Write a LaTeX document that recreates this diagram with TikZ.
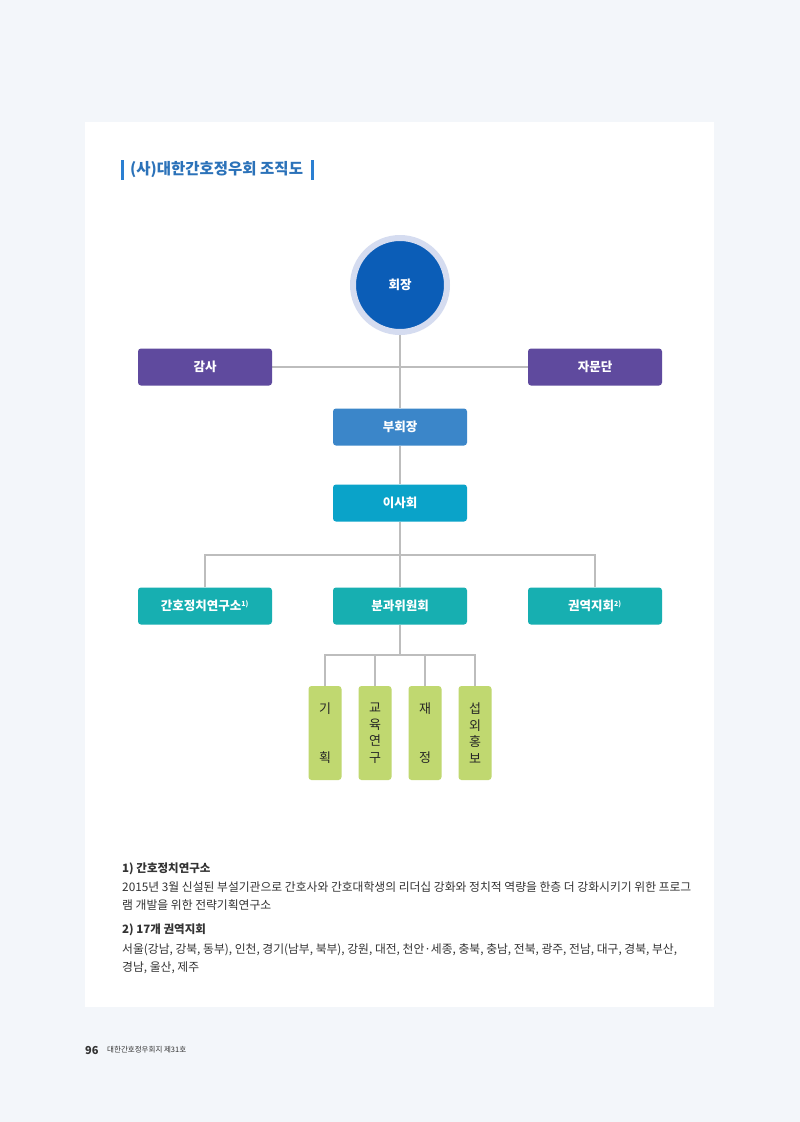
\documentclass[tikz,border=0pt]{standalone}
\usepackage{fontspec}
\usepackage{xcolor}
\usepackage{tikz}
\usetikzlibrary{shapes,arrows,positioning,calc}
\newfontfamily\kr{Noto Sans CJK KR}
\setmainfont{Noto Sans CJK KR}
\definecolor{pagebg}{HTML}{F3F6FA}
\definecolor{titleblue}{HTML}{2B72B9}
\definecolor{barblue}{HTML}{2A7FD2}
\definecolor{ringc}{HTML}{D5DCF0}
\definecolor{chiefc}{HTML}{0B5DB7}
\definecolor{purplec}{HTML}{5F4A9E}
\definecolor{vicec}{HTML}{3B86C9}
\definecolor{boardc}{HTML}{0AA3C9}
\definecolor{tealc}{HTML}{17AFB1}
\definecolor{greenc}{HTML}{C0D870}
\definecolor{linec}{HTML}{BDBDBD}
\definecolor{textc}{HTML}{333333}
\tikzstyle{chief} = [circle, minimum size=94pt, fill=chiefc, draw=ringc, line width=6pt, text=white, font=\kr\bfseries\fontsize{12.5}{15}\selectfont]
\tikzstyle{post} = [rectangle, rounded corners=3pt, minimum width=134pt, minimum height=37pt, text centered, text=white, font=\kr\bfseries\fontsize{12.5}{15}\selectfont]
\tikzstyle{team} = [rectangle, rounded corners=3pt, minimum width=33pt, minimum height=94pt, fill=greenc, text=black!85, font=\kr\fontsize{13}{16.5}\selectfont, align=center]
\tikzstyle{line} = [linec, line width=1.2pt]
\tikzstyle{note} = [anchor=west, inner sep=0pt, text=textc, font=\kr\fontsize{11.8}{14}\selectfont]
\pgfdeclarelayer{background}
\pgfsetlayers{background,main}

\begin{document}
\begin{tikzpicture}[x=1pt,y=-1pt]
\useasboundingbox (0,0) rectangle (800,1122);

% title
\fill[barblue] (121,160) rectangle (124,180);
\fill[barblue] (311,160) rectangle (314,180);
\node (title) [anchor=west, inner sep=0pt, text=titleblue, font=\kr\bfseries\fontsize{15.5}{18}\selectfont] at (130,170) {(사)대한간호정우회 조직도};

% chart
\node (hoejang) [chief] at (400,285) {회장};
\node (gamsa) [post, fill=purplec] at (205,367) {감사};
\node (jamun) [post, fill=purplec] at (595,367) {자문단};
\node (buhoe) [post, fill=vicec] at (400,427) {부회장};
\node (isa) [post, fill=boardc] at (400,503) {이사회};
\node (yeongu) [post, fill=tealc] at (205,606) {간호정치연구소\textsuperscript{\fontsize{7}{7}\selectfont 1)}};
\node (bungwa) [post, fill=tealc] at (400,606) {분과위원회};
\node (gwon) [post, fill=tealc] at (595,606) {권역지회\textsuperscript{\fontsize{7}{7}\selectfont 2)}};

\node (gihoek) [team] at (325,733) {기\\[32pt]획};
\node (gyoyuk) [team] at (375,733) {교\\육\\연\\구};
\node (jaejeong) [team] at (425,733) {재\\[32pt]정};
\node (seobwoe) [team] at (475,733) {섭\\외\\홍\\보};

\coordinate (b1) at (400,555);
\coordinate (b2) at (400,655);

\begin{pgfonlayer}{background}
\fill[pagebg] (0,0) rectangle (800,1122);
\fill[white] (85,122) rectangle (714,1007);
\draw[line] (hoejang) -- (buhoe);
\draw[line] (buhoe) -- (isa);
\draw[line] (gamsa) -- (jamun);
\draw[line] (isa) -- (b1);
\draw[line] (yeongu) |- (b1) -| (gwon);
\draw[line] (b1) -- (bungwa);
\draw[line] (bungwa) -- (b2);
\draw[line] (gihoek) |- (b2) -| (seobwoe);
\draw[line] (gyoyuk) -- (gyoyuk |- b2);
\draw[line] (jaejeong) -- (jaejeong |- b2);
\end{pgfonlayer}

% notes
\node (n1) [note, font=\kr\bfseries\fontsize{11.5}{13}\selectfont] at (122,869) {1) 간호정치연구소};
\node (n1a) [note] at (122,887) {2015년 3월 신설된 부설기관으로 간호사와 간호대학생의 리더십 강화와 정치적 역량을 한층 더 강화시키기 위한 프로그};
\node (n1b) [note] at (122,905) {램 개발을 위한 전략기획연구소};
\node (n2) [note, font=\kr\bfseries\fontsize{11.5}{13}\selectfont] at (122,930) {2) 17개 권역지회};
\node (n2a) [note] at (122,950) {서울(강남, 강북, 동부), 인천, 경기(남부, 북부), 강원, 대전, 천안·세종, 충북, 충남, 전북, 광주, 전남, 대구, 경북, 부산,};
\node (n2b) [note] at (122,968) {경남, 울산, 제주};

% footer
\node (pageno) [anchor=west, inner sep=0pt, text=textc, font=\kr\bfseries\fontsize{11}{13}\selectfont] at (85,1050) {96};
\node (journal) [anchor=west, inner sep=0pt, text=textc, font=\kr\fontsize{7.5}{9}\selectfont] at (107,1050) {대한간호정우회지 제31호};
\end{tikzpicture}
\end{document}
